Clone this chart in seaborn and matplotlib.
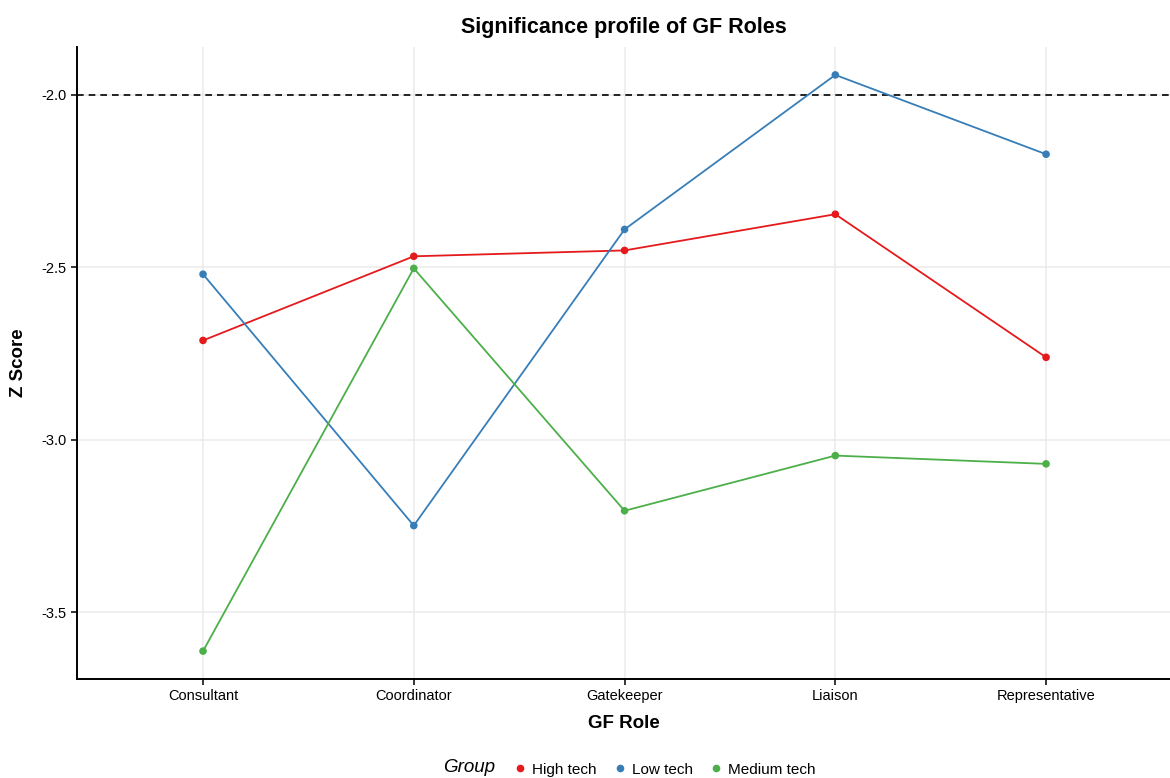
import numpy as np
import pandas as pd
import seaborn as sns
import matplotlib
import matplotlib.pyplot as plt
from matplotlib.lines import Line2D

matplotlib.use("Agg")

# ─── data ─────────────────────────────────────────────────────────
ROLES = ["Consultant", "Coordinator", "Gatekeeper", "Liaison", "Representative"]
HIGH_TECH = [-2.712, -2.468, -2.451, -2.346, -2.761]
LOW_TECH = [-2.520, -3.249, -2.390, -1.942, -2.172]
MEDIUM_TECH = [-3.613, -2.503, -3.206, -3.046, -3.070]
GROUPS = ["High tech", "Low tech", "Medium tech"]
YTICKS = [-3.5, -3.0, -2.5, -2.0]

df = pd.concat([
    pd.DataFrame({"role": ROLES, "z": vals, "Group": g})
    for g, vals in zip(GROUPS, [HIGH_TECH, LOW_TECH, MEDIUM_TECH])
])
df["x"] = df["role"].map({r: i for i, r in enumerate(ROLES)})

PALETTE = dict(zip(GROUPS, ["#E41A1C", "#377EB8", "#4DAF4A"]))

# ─── style ────────────────────────────────────────────────────────
sns.set_theme(style="white")
plt.rcParams["font.family"] = ["Liberation Sans", "DejaVu Sans"]
plt.rcParams.update({"text.color": "black", "axes.labelcolor": "black"})

fig = plt.figure(figsize=(11.7, 7.78), dpi=100)
ax = fig.add_axes([0.0658, 0.1272, 0.9342, 0.8124])

sns.lineplot(data=df, x="x", y="z", hue="Group", hue_order=GROUPS,
             palette=PALETTE, linewidth=1.3, legend=False, ax=ax, zorder=3)
sns.scatterplot(data=df, x="x", y="z", hue="Group", hue_order=GROUPS,
                palette=PALETTE, s=30, edgecolor="none", legend=False,
                ax=ax, zorder=4)

ax.axhline(-2.0, color="black", linestyle=(0, (4, 3)), linewidth=1.2, zorder=2)

ax.set_xlim(-0.598, 4.588)
ax.set_ylim(-3.694, -1.861)
ax.set_xticks(range(len(ROLES)))
ax.set_xticklabels(ROLES)
ax.set_yticks(YTICKS)
ax.set_yticklabels([f"{v:.1f}" for v in YTICKS])
ax.grid(True, color="#EBEBEB", linewidth=1.1, zorder=0)
ax.set_axisbelow(True)

for s in ["top", "right"]:
    ax.spines[s].set_visible(False)
for s in ["left", "bottom"]:
    ax.spines[s].set_color("black")
    ax.spines[s].set_linewidth(1.4)

ax.tick_params(axis="both", length=4, width=1.1, color="black",
               labelsize=10.5, labelcolor="black", direction="out",
               bottom=True, left=True)

ax.set_xlabel("GF Role", fontsize=13.5, fontweight="bold", labelpad=8)
ax.set_ylabel("Z Score", fontsize=13.5, fontweight="bold", labelpad=10)
ax.set_title("Significance profile of GF Roles", fontsize=15.5,
             fontweight="bold", pad=10, color="black")

# legend at bottom
fig.text(0.379, 0.002, "Group", fontsize=13.5, fontstyle="italic",
         va="bottom", ha="left")
handles = [Line2D([0], [0], marker="o", linestyle="none", markersize=5.5,
                  markerfacecolor=PALETTE[g], markeredgecolor="none")
           for g in GROUPS]
fig.legend(handles, GROUPS, loc="lower left", bbox_to_anchor=(0.425, -0.016),
           ncol=3, frameon=False, fontsize=11, handletextpad=0.2,
           columnspacing=0.9, handlelength=1.2)

fig.savefig("out.png", dpi=100)
